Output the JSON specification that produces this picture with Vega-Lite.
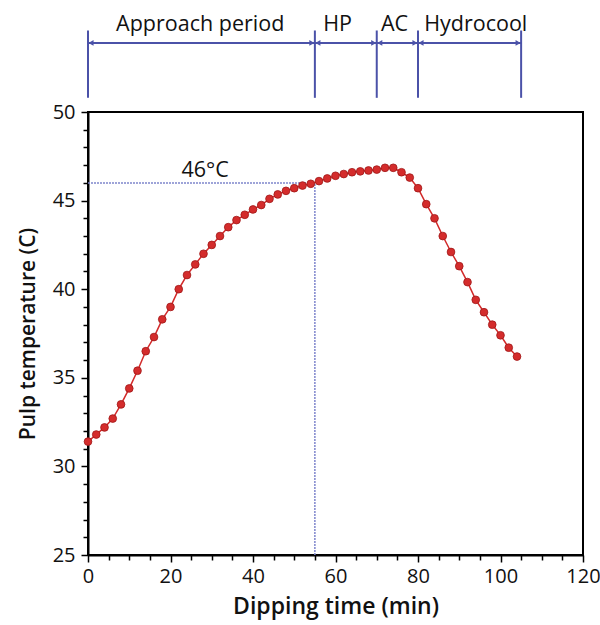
{
  "$schema": "https://vega.github.io/schema/vega-lite/v6.json",
  "width": 495,
  "height": 443,
  "autosize": {"type": "none"},
  "padding": {"left": 88, "top": 112, "right": 17, "bottom": 70},
  "config": {
    "view": {"stroke": "black", "strokeWidth": 2},
    "font": "Open Sans",
    "axis": {
      "grid": false,
      "domainColor": "black",
      "domainWidth": 2,
      "tickColor": "black",
      "tickWidth": 1.5,
      "labelFontSize": 20,
      "labelColor": "#111",
      "labelOverlap": false,
      "labelFlush": false,
      "titleFontWeight": 600,
      "titleColor": "#111"
    }
  },
  "resolve": {"axis": {"x": "independent", "y": "independent"}},
  "datasets": {
    "curve": [
      {"t": 0, "temp": 31.4}, {"t": 2, "temp": 31.8}, {"t": 4, "temp": 32.2}, {"t": 6, "temp": 32.7},
      {"t": 8, "temp": 33.5}, {"t": 10, "temp": 34.4}, {"t": 12, "temp": 35.4}, {"t": 14, "temp": 36.5},
      {"t": 16, "temp": 37.3}, {"t": 18, "temp": 38.3}, {"t": 20, "temp": 39.0}, {"t": 22, "temp": 40.0},
      {"t": 24, "temp": 40.8}, {"t": 26, "temp": 41.4}, {"t": 28, "temp": 42.0}, {"t": 30, "temp": 42.5},
      {"t": 32, "temp": 43.0}, {"t": 34, "temp": 43.5}, {"t": 36, "temp": 43.9}, {"t": 38, "temp": 44.2},
      {"t": 40, "temp": 44.5}, {"t": 42, "temp": 44.75}, {"t": 44, "temp": 45.1}, {"t": 46, "temp": 45.35},
      {"t": 48, "temp": 45.55}, {"t": 50, "temp": 45.7}, {"t": 52, "temp": 45.85}, {"t": 54, "temp": 45.95},
      {"t": 56, "temp": 46.1}, {"t": 58, "temp": 46.25}, {"t": 60, "temp": 46.4}, {"t": 62, "temp": 46.5},
      {"t": 64, "temp": 46.6}, {"t": 66, "temp": 46.65}, {"t": 68, "temp": 46.7}, {"t": 70, "temp": 46.75},
      {"t": 72, "temp": 46.85}, {"t": 74, "temp": 46.85}, {"t": 76, "temp": 46.6}, {"t": 78, "temp": 46.3},
      {"t": 80, "temp": 45.7}, {"t": 82, "temp": 44.8}, {"t": 84, "temp": 44.0}, {"t": 86, "temp": 43.0},
      {"t": 88, "temp": 42.1}, {"t": 90, "temp": 41.3}, {"t": 92, "temp": 40.4}, {"t": 94, "temp": 39.4},
      {"t": 96, "temp": 38.7}, {"t": 98, "temp": 38.0}, {"t": 100, "temp": 37.4}, {"t": 102, "temp": 36.7},
      {"t": 104, "temp": 36.2}
    ],
    "guides": [
      {"xa": 0, "xb": 55, "ya": 46, "yb": 46},
      {"xa": 55, "xb": 55, "ya": 25, "yb": 46}
    ],
    "phases": [
      {"start": 0, "end": 55, "label": "Approach period", "lx": 27.2},
      {"start": 55, "end": 70, "label": "HP", "lx": 60.5},
      {"start": 70, "end": 80, "label": "AC", "lx": 74.3},
      {"start": 80, "end": 105, "label": "Hydrocool", "lx": 94}
    ],
    "bounds": [{"t": 0}, {"t": 55}, {"t": 70}, {"t": 80}, {"t": 105}],
    "note": [{"t": 28.4, "temp": 46, "text": "46°C"}]
  },
  "layer": [
    {
      "data": {"name": "guides"},
      "mark": {"type": "rule", "color": "#7f86cc", "strokeWidth": 1.5, "strokeDash": [2, 1]},
      "encoding": {
        "x": {"field": "xa", "type": "quantitative", "scale": {"domain": [0, 120]}, "axis": null},
        "x2": {"field": "xb"},
        "y": {"field": "ya", "type": "quantitative", "scale": {"domain": [25, 50]}, "axis": null},
        "y2": {"field": "yb"}
      }
    },
    {
      "data": {"name": "note"},
      "mark": {"type": "text", "fontSize": 21.5, "color": "#111", "baseline": "bottom", "dy": -1},
      "encoding": {
        "x": {"field": "t", "type": "quantitative", "scale": {"domain": [0, 120]}, "axis": null},
        "y": {"field": "temp", "type": "quantitative", "scale": {"domain": [25, 50]}, "axis": null},
        "text": {"field": "text"}
      }
    },
    {
      "data": {"name": "curve"},
      "mark": {
        "type": "line",
        "color": "#d22a2a",
        "strokeWidth": 1.5,
        "point": {"filled": true, "size": 60, "color": "#d42c2c", "stroke": "#a01818", "strokeWidth": 0.8}
      },
      "encoding": {
        "x": {
          "field": "t",
          "type": "quantitative",
          "scale": {"domain": [0, 120]},
          "axis": {
            "orient": "bottom",
            "title": "Dipping time (min)",
            "titleFontSize": 23,
            "values": [0,5,10,15,20,25,30,35,40,45,50,55,60,65,70,75,80,85,90,95,100,105,110,115,120],
            "labelExpr": "datum.value % 20 === 0 ? datum.label : ''",
            "tickSize": {"condition": {"test": "datum.value % 20 === 0", "value": 7}, "value": 5},
            "labelPadding": 4,
            "titlePadding": 9
          }
        },
        "y": {
          "field": "temp",
          "type": "quantitative",
          "scale": {"domain": [25, 50]},
          "axis": {
            "orient": "left",
            "title": "Pulp temperature (C)",
            "titleFontSize": 21,
            "values": [25,26,27,28,29,30,31,32,33,34,35,36,37,38,39,40,41,42,43,44,45,46,47,48,49,50],
            "labelExpr": "datum.value % 5 === 0 ? datum.label : ''",
            "tickSize": {"condition": {"test": "datum.value % 5 === 0", "value": 7}, "value": 5},
            "labelPadding": 6,
            "titlePadding": 14
          }
        }
      }
    },
    {
      "data": {"name": "bounds"},
      "mark": {"type": "rule", "color": "#4b52a8", "strokeWidth": 2},
      "encoding": {
        "x": {"field": "t", "type": "quantitative", "scale": {"domain": [0, 120]}, "axis": null},
        "y": {"datum": 50.8, "type": "quantitative", "scale": {"domain": [25, 50]}, "axis": null},
        "y2": {"datum": 54.6}
      }
    },
    {
      "data": {"name": "phases"},
      "mark": {"type": "rule", "color": "#4b52a8", "strokeWidth": 2},
      "encoding": {
        "x": {"field": "start", "type": "quantitative", "scale": {"domain": [0, 120]}, "axis": null},
        "x2": {"field": "end"},
        "y": {"datum": 53.9, "type": "quantitative", "scale": {"domain": [25, 50]}, "axis": null}
      }
    },
    {
      "data": {"name": "phases"},
      "mark": {"type": "point", "shape": "triangle-left", "filled": true, "size": 35, "color": "#4b52a8", "opacity": 1, "xOffset": 3},
      "encoding": {
        "x": {"field": "start", "type": "quantitative", "scale": {"domain": [0, 120]}, "axis": null},
        "y": {"datum": 53.9, "type": "quantitative", "scale": {"domain": [25, 50]}, "axis": null}
      }
    },
    {
      "data": {"name": "phases"},
      "mark": {"type": "point", "shape": "triangle-right", "filled": true, "size": 35, "color": "#4b52a8", "opacity": 1, "xOffset": -3},
      "encoding": {
        "x": {"field": "end", "type": "quantitative", "scale": {"domain": [0, 120]}, "axis": null},
        "y": {"datum": 53.9, "type": "quantitative", "scale": {"domain": [25, 50]}, "axis": null}
      }
    },
    {
      "data": {"name": "phases"},
      "mark": {"type": "text", "fontSize": 21.5, "color": "#111", "baseline": "middle"},
      "encoding": {
        "x": {"field": "lx", "type": "quantitative", "scale": {"domain": [0, 120]}, "axis": null},
        "y": {"datum": 54.93, "type": "quantitative", "scale": {"domain": [25, 50]}, "axis": null},
        "text": {"field": "label"}
      }
    }
  ]
}
